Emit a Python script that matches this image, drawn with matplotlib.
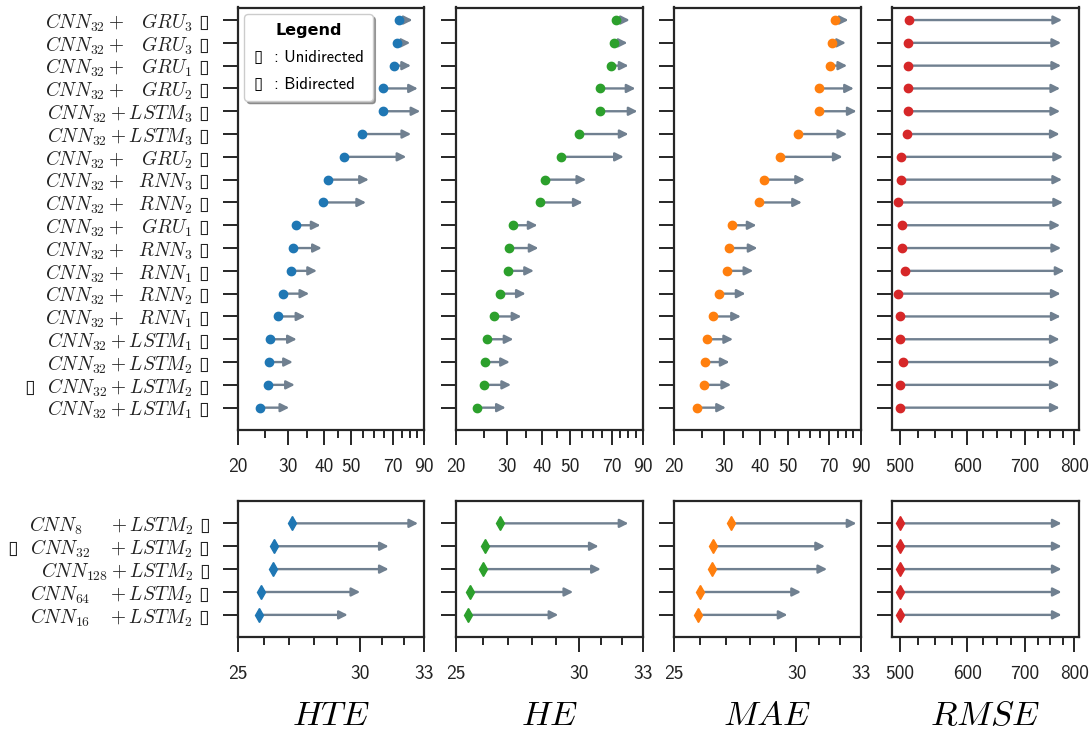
import matplotlib
matplotlib.use('Agg')
import matplotlib.pyplot as plt
from matplotlib.ticker import FixedLocator, FixedFormatter, NullFormatter
from matplotlib.lines import Line2D
from matplotlib.font_manager import FontProperties

plt.rcParams['font.family'] = ['cmss10', 'DejaVu Sans']
plt.rcParams['mathtext.fontset'] = 'cm'
plt.rcParams['axes.unicode_minus'] = False
plt.rcParams['axes.formatter.use_mathtext'] = False

# ---------------- data ----------------
top_labels = [
    r'$CNN_{32}+\ \ \,GRU_{3}$ ▯',
    r'$CNN_{32}+\ \ \,GRU_{3}$ ▯',
    r'$CNN_{32}+\ \ \,GRU_{1}$ ▯',
    r'$CNN_{32}+\ \ \,GRU_{2}$ ▯',
    r'$CNN_{32}+LSTM_{3}$ ▯',
    r'$CNN_{32}+LSTM_{3}$ ▯',
    r'$CNN_{32}+\ \ \,GRU_{2}$ ▯',
    r'$CNN_{32}+\ \ RNN_{3}$ ▯',
    r'$CNN_{32}+\ \ RNN_{2}$ ▯',
    r'$CNN_{32}+\ \ \,GRU_{1}$ ▯',
    r'$CNN_{32}+\ \ RNN_{3}$ ▯',
    r'$CNN_{32}+\ \ RNN_{1}$ ▯',
    r'$CNN_{32}+\ \ RNN_{2}$ ▯',
    r'$CNN_{32}+\ \ RNN_{1}$ ▯',
    r'$CNN_{32}+LSTM_{1}$ ▯',
    r'$CNN_{32}+LSTM_{2}$ ▯',
    r'▯  $CNN_{32}+LSTM_{2}$ ▯',
    r'$CNN_{32}+LSTM_{1}$ ▯',
]

top_hte_start = [73.4, 72.2, 70.3, 64.5, 64.5, 54.5, 47.2, 41.5, 39.9, 32.1, 31.2, 30.7, 28.9, 27.6, 26.0, 25.7, 25.5, 24.0]
top_hte_end = [81.9, 80.4, 80.9, 85.5, 87.2, 81.0, 77.9, 57.6, 56.3, 39.0, 39.4, 37.9, 35.6, 34.5, 32.2, 31.2, 31.7, 30.3]
top_he_start = [72.6, 71.4, 69.7, 63.8, 63.6, 53.8, 46.5, 40.8, 39.2, 31.5, 30.6, 30.3, 28.4, 27.0, 25.6, 25.3, 25.1, 23.6]
top_he_end = [81.0, 79.5, 80.2, 84.8, 86.2, 80.2, 77.2, 57.0, 55.4, 38.5, 38.8, 37.4, 35.0, 33.8, 31.7, 30.8, 31.1, 29.8]
top_mae_start = [73.0, 71.8, 70.1, 64.5, 64.3, 54.2, 47.1, 41.4, 39.7, 32.0, 31.1, 30.7, 28.8, 27.5, 26.1, 25.7, 25.5, 24.0]
top_mae_end = [81.7, 80.0, 80.8, 85.3, 87.2, 80.8, 77.9, 57.5, 56.1, 38.9, 39.2, 37.9, 35.6, 34.3, 32.2, 31.3, 31.7, 30.4]
top_rmse_start = [513, 512, 512, 511, 511, 510, 502, 502, 498.6, 504, 503, 508, 497.7, 500, 501, 505, 501, 500.5]
top_rmse_end = [774, 772, 772, 770, 770, 769, 776, 774, 776, 770, 772, 779, 771, 771, 769, 769, 769, 769]

bottom_labels = [
    r'$CNN_{8}\quad\ \,+LSTM_{2}$ ▯',
    r'▯  $CNN_{32}\ \ \ +LSTM_{2}$ ▯',
    r'$CNN_{128}+LSTM_{2}$ ▯',
    r'$CNN_{64}\ \ \ +LSTM_{2}$ ▯',
    r'$CNN_{16}\ \ \ +LSTM_{2}$ ▯',
]
bot_hte_start = [27.1, 26.4, 26.35, 25.9, 25.8]
bot_hte_end = [32.7, 31.3, 31.3, 30.0, 29.45]
bot_he_start = [26.7, 26.1, 26.0, 25.5, 25.45]
bot_he_end = [32.3, 30.9, 31.0, 29.75, 29.1]
bot_mae_start = [27.2, 26.5, 26.45, 26.0, 25.9]
bot_mae_end = [32.8, 31.3, 31.4, 30.2, 29.6]
bot_rmse_start = [500, 500, 500, 500, 500]
bot_rmse_end = [773, 773, 773, 773, 773]

metric_names = [r'$HTE$', r'$HE$', r'$MAE$', r'$RMSE$']
metric_colors = ['#1f77b4', '#2ca02c', '#ff7f0e', '#d62728']

err_major = [20, 30, 40, 50, 70, 90]
err_minor = [25, 35, 45, 55, 60, 65, 75, 80, 85]
bot_major = [25, 30, 33]
bot_minor = [26, 27, 28, 29, 31, 32]
rmse_major = [500, 600, 700, 800]
rmse_minor = [525, 550, 575, 625, 650, 675, 725, 750, 775]

legend_labels = ['▯  : Unidirected', '▯  : Bidirected']

# ---------------- style ----------------
ARROW = '#708090'
SPINE = '#262626'
W, H = 1091, 733
fig = plt.figure(figsize=(W / 100, H / 100), dpi=100)

col_px = [237.7, 456.3, 674.0, 892.0]
col_w = 186.5


def ax_at(x0, y0, w, h):
    return fig.add_axes([x0 / W, 1 - (y0 + h) / H, w / W, h / H])


top_axes = [ax_at(x, 7.5, col_w, 422.5) for x in col_px]
bot_axes = [ax_at(x, 500.7, col_w, 136.6) for x in col_px]


def style(ax, major, minor, xlim, n, ylim):
    ax.set_xscale('log')
    ax.set_xlim(*xlim)
    ax.xaxis.set_major_locator(FixedLocator(major))
    ax.xaxis.set_major_formatter(FixedFormatter([str(v) for v in major]))
    ax.xaxis.set_minor_locator(FixedLocator(minor))
    ax.xaxis.set_minor_formatter(NullFormatter())
    ax.set_yticks(range(n))
    ax.set_ylim(*ylim)
    for s in ax.spines.values():
        s.set_color(SPINE)
        s.set_linewidth(1.6)
    ax.tick_params(axis='both', which='major', length=11, width=1.4, color=SPINE,
                   labelsize=14, labelcolor='#222222')
    ax.tick_params(axis='x', which='minor', length=5.5, width=1.4, color=SPINE)
    ax.tick_params(axis='x', which='major', pad=9)
    ax.tick_params(axis='y', which='major', pad=9)


def draw(ax, starts, ends, color, marker, ms):
    ys = list(range(len(starts)))
    for y, s, e in zip(ys, starts, ends):
        ax.annotate('', xy=(e, y), xytext=(s, y),
                    arrowprops=dict(arrowstyle='-|>,head_length=0.4,head_width=0.2',
                                    color=ARROW, lw=1.7, mutation_scale=12.5,
                                    shrinkA=0, shrinkB=0), zorder=2)
    ax.plot(starts, ys, linestyle='none', marker=marker, color=color,
            ms=ms, mec=color, zorder=3)


top_data = [(top_hte_start, top_hte_end), (top_he_start, top_he_end),
            (top_mae_start, top_mae_end), (top_rmse_start, top_rmse_end)]
bot_data = [(bot_hte_start, bot_hte_end), (bot_he_start, bot_he_end),
            (bot_mae_start, bot_mae_end), (bot_rmse_start, bot_rmse_end)]

for i, ax in enumerate(top_axes):
    if i < 3:
        style(ax, err_major, err_minor, (20, 90), len(top_labels), (17.98, -0.55))
    else:
        style(ax, rmse_major, rmse_minor, (490, 809), len(top_labels), (17.98, -0.55))
    draw(ax, top_data[i][0], top_data[i][1], metric_colors[i], 'o', 6)
    if i == 0:
        ax.set_yticklabels(top_labels, fontsize=14, fontfamily='DejaVu Sans')
    else:
        ax.set_yticklabels([])

for i, ax in enumerate(bot_axes):
    if i < 3:
        style(ax, bot_major, bot_minor, (25, 33), len(bottom_labels), (4.98, -0.99))
    else:
        style(ax, rmse_major, rmse_minor, (490, 809), len(bottom_labels), (4.98, -0.99))
    draw(ax, bot_data[i][0], bot_data[i][1], metric_colors[i], 'd', 7.5)
    if i == 0:
        ax.set_yticklabels(bottom_labels, fontsize=14, fontfamily='DejaVu Sans')
    else:
        ax.set_yticklabels([])
    ax.set_xlabel(metric_names[i], fontsize=25, labelpad=13)

handles = [Line2D([], [], linestyle='none') for _ in legend_labels]
leg = top_axes[0].legend(handles, legend_labels, loc='upper left', title='Legend',
                         title_fontproperties=FontProperties(family='DejaVu Sans', weight='bold', size=11.5),
                         prop=FontProperties(family=['cmss10', 'DejaVu Sans'], size=12),
                         handlelength=0, handletextpad=0, fancybox=True, shadow=True,
                         framealpha=1, borderpad=0.55, labelspacing=0.7,
                         bbox_to_anchor=(0.0, 1.0), borderaxespad=0.4)
leg.get_frame().set_edgecolor('#cccccc')

fig.savefig('out.png', dpi=100)
